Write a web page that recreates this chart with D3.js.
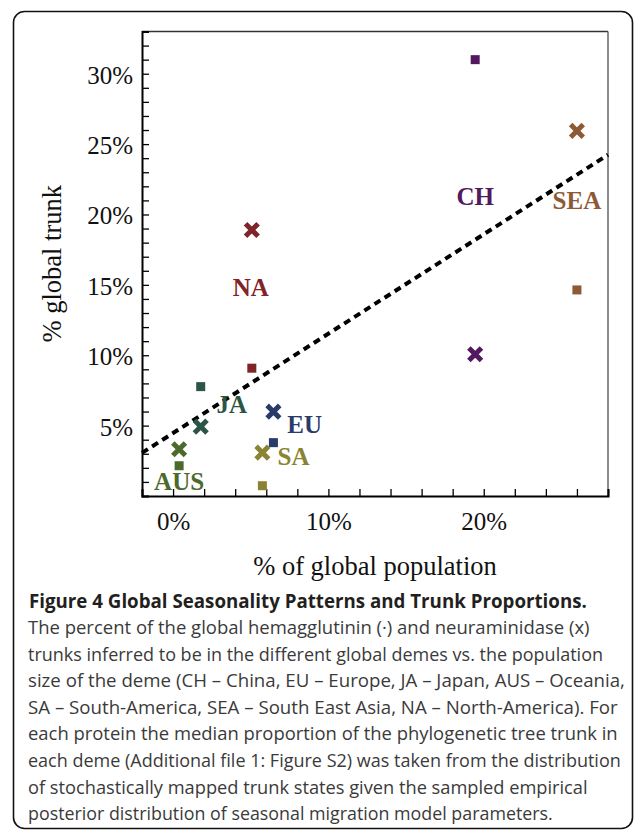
<!DOCTYPE html>
<html><head><meta charset="utf-8">
<script src="https://cdn.jsdelivr.net/npm/d3@7"></script>
<style>body{margin:0;background:#fff}svg{display:block}</style>
</head><body>
<svg id="c" width="634" height="834"></svg>
<script>
// ---- data ----
const demes = ["CH", "SEA", "NA", "JA", "AUS", "EU", "SA"];
const population = [19.45, 26.0, 5.07, 1.78, 0.39, 6.46, 5.75];   // % of global population
const haTrunk = [31.0, 14.64, 9.08, 7.77, 2.15, 3.79, 0.73];      // hemagglutinin (square)
const naTrunk = [10.07, 25.94, 18.9, 4.93, 3.32, 5.99, 3.08];     // neuraminidase (cross)
const labelX = [19.45, 26.0, 5.0, 3.78, 0.39, 8.47, 7.76];
const labelY = [21.3, 21.0, 14.8, 6.47, 1.0, 5.05, 2.8];
const demeColors = ["#52195f", "#8e5a36", "#7f2527", "#2d5547", "#4c6a2c", "#293b6b", "#8a8432"];
const fitX = [-2, 28];
const fitY = [3.06, 24.24];
const xTickLabels = [0, 10, 20];
const yTickLabels = [5, 10, 15, 20, 25, 30];
const xMinorTicks = d3.range(-2, 29, 2);
const yMinorTicks = d3.range(0, 34, 1);
const captionTitle = "Figure 4 Global Seasonality Patterns and Trunk Proportions.";
const captionLines = [
  "The percent of the global hemagglutinin (\u00b7) and neuraminidase (x)",
  "trunks inferred to be in the different global demes vs. the population",
  "size of the deme (CH \u2013 China, EU \u2013 Europe, JA \u2013 Japan, AUS \u2013 Oceania,",
  "SA \u2013 South-America, SEA \u2013 South East Asia, NA \u2013 North-America). For",
  "each protein the median proportion of the phylogenetic tree trunk in",
  "each deme (Additional file 1: Figure S2) was taken from the distribution",
  "of stochastically mapped trunk states given the sampled empirical",
  "posterior distribution of seasonal migration model parameters."
];
const captionLineEnds = [590, 603, 625, 618, 618, 621, 588, 553];

// ---- layout ----
const svg = d3.select("#c");
const L = 142, R = 608, T = 31.5, B = 496;
const x = d3.scaleLinear().domain([-2, 28]).range([L, R]);
const y = d3.scaleLinear().domain([0, 33]).range([B, T]);
const serif = "'Liberation Serif','Times New Roman',serif";

// outer rounded border
svg.append("rect").attr("x", 13.5).attr("y", 11.5).attr("width", 619).attr("height", 817)
  .attr("rx", 11).attr("fill", "none").attr("stroke", "#111").attr("stroke-width", 1.6);

// frame top & right
svg.append("line").attr("x1", L).attr("x2", R).attr("y1", T).attr("y2", T)
  .attr("stroke", "#333").attr("stroke-width", 1.5);
svg.append("line").attr("x1", R).attr("x2", R).attr("y1", T).attr("y2", B)
  .attr("stroke", "#666").attr("stroke-width", 1.5);

// minor/major ticks
const gyt = svg.append("g").attr("transform", `translate(${L},0)`)
  .call(d3.axisLeft(y).tickValues(yMinorTicks).tickSize(-7).tickFormat(""));
const gxt = svg.append("g").attr("transform", `translate(0,${B})`)
  .call(d3.axisBottom(x).tickValues(xMinorTicks).tickSize(-7).tickFormat(""));
[gyt, gxt].forEach(g => {
  g.select(".domain").attr("stroke", "#000").attr("stroke-width", 2);
  g.selectAll(".tick line").attr("stroke", "#000").attr("stroke-width", 1.3);
});

// tick labels
const gyl = svg.append("g").attr("transform", `translate(${L},0)`)
  .call(d3.axisLeft(y).tickValues(yTickLabels).tickSize(0).tickPadding(9).tickFormat(d => d + "%"));
const gxl = svg.append("g").attr("transform", `translate(0,${B})`)
  .call(d3.axisBottom(x).tickValues(xTickLabels).tickSize(0).tickPadding(16).tickFormat(d => d + "%"));
[gyl, gxl].forEach(g => {
  g.select(".domain").remove();
  g.selectAll("text").attr("font-family", serif).attr("font-size", 25).attr("fill", "#111");
});
gyl.selectAll("text").attr("dy", "0.38em");

// axis titles
svg.append("text").attr("transform", `translate(61,${(T + B) / 2}) rotate(-90)`)
  .attr("text-anchor", "middle").attr("font-family", serif).attr("font-size", 26.5)
  .attr("fill", "#111").text("% global trunk");
svg.append("text").attr("x", (L + R) / 2).attr("y", 575)
  .attr("text-anchor", "middle").attr("font-family", serif).attr("font-size", 26.5)
  .attr("fill", "#111").text("% of global population");

// regression line
svg.append("path")
  .attr("d", d3.line().x(d => x(d[0])).y(d => y(d[1]))(fitX.map((v, i) => [v, fitY[i]])))
  .attr("stroke", "#000").attr("stroke-width", 4).attr("stroke-dasharray", "7,5").attr("fill", "none");

const idx = d3.range(demes.length);
// squares (hemagglutinin)
svg.append("g").selectAll("rect").data(idx).join("rect")
  .attr("x", i => x(population[i]) - 4.5).attr("y", i => y(haTrunk[i]) - 4.5)
  .attr("width", 9).attr("height", 9).attr("fill", i => demeColors[i]);
// crosses (neuraminidase)
svg.append("g").selectAll("path").data(idx).join("path")
  .attr("transform", i => `translate(${x(population[i])},${y(naTrunk[i])})`)
  .attr("d", "M-6.3,-6.3L6.3,6.3M-6.3,6.3L6.3,-6.3")
  .attr("stroke", i => demeColors[i]).attr("stroke-width", 5).attr("fill", "none");
// labels
svg.append("g").selectAll("text").data(idx).join("text")
  .attr("x", i => x(labelX[i])).attr("y", i => y(labelY[i]))
  .attr("dy", "0.34em").attr("text-anchor", "middle")
  .attr("font-family", serif).attr("font-weight", "bold").attr("font-size", 25)
  .attr("fill", i => demeColors[i]).text(i => demes[i]);

// caption (each line horizontally scaled to the reference width)
const sans = "'Open Sans','Noto Sans',sans-serif";
function fitLine(g, x0, x1) {
  const t = g.select("text");
  const w = t.node().getComputedTextLength();
  const s = (x1 - x0) / w;
  t.attr("x", 0).attr("y", 0);
  g.attr("transform", `${g.attr("transform")} scale(${s},1)`);
}
const tg = svg.append("g").attr("transform", "translate(29,608)");
tg.append("text").attr("font-family", sans).attr("font-weight", "bold").attr("font-size", 19.5)
  .attr("fill", "#231f20").text(captionTitle);
fitLine(tg, 29, 587);
svg.append("g").selectAll("g").data(captionLines).join("g")
  .attr("transform", (d, i) => `translate(28,${634 + i * 26.6})`)
  .each(function (d, i) {
    const g = d3.select(this);
    g.append("text").attr("font-family", sans).attr("font-size", 19)
      .attr("fill", "#3a3a3a").text(d);
    fitLine(g, 28, captionLineEnds[i]);
  });
</script>
</body></html>
